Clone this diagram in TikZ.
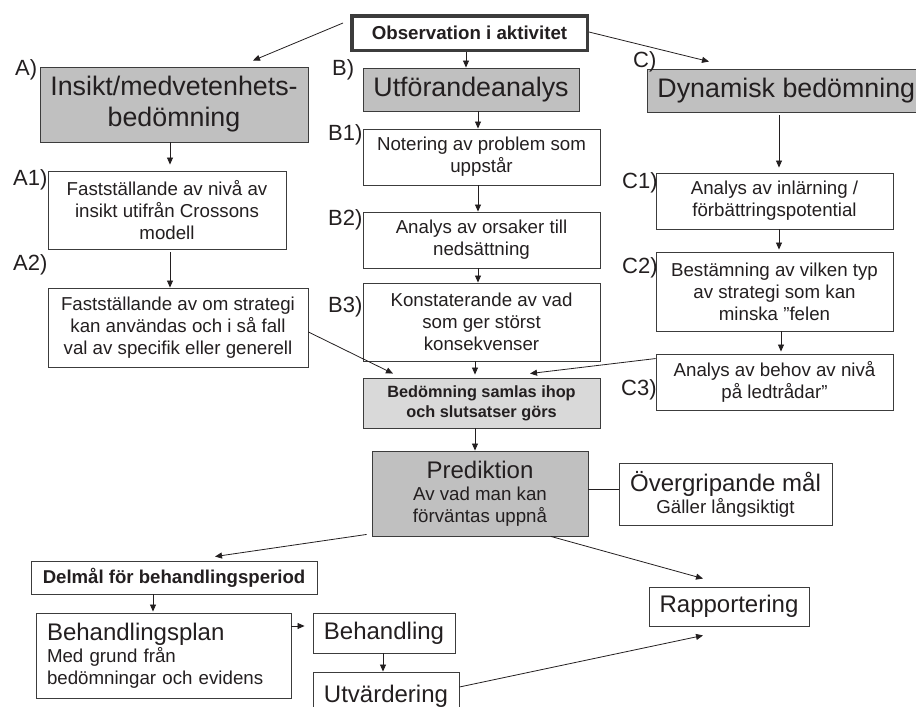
\documentclass[tikz,border=0pt]{standalone}
\usepackage{fontspec}
\setmainfont{Liberation Sans}
\usetikzlibrary{arrows.meta}

\definecolor{ink}{HTML}{231F20}
\definecolor{frame}{HTML}{3C3C3C}
\definecolor{headgray}{HTML}{C0C0C0}
\definecolor{sumgray}{HTML}{D9D9D9}

\tikzset{
  box/.style={draw=frame, line width=0.9pt, fill=white, text=ink, inner sep=0pt,
    align=center, font=\fontsize{18.7}{22}\selectfont},
  headbox/.style={box, fill=headgray, font=\fontsize{26.8}{31}\selectfont},
  bigbox/.style={box, font=\fontsize{24}{26}\selectfont},
  steplabel/.style={anchor=base west, inner sep=0pt, text=ink, font=\fontsize{22}{22}\selectfont},
  arr/.style={draw=ink, line width=0.8pt, -{Triangle[length=7pt,width=6pt]}},
  link/.style={draw=ink, line width=0.8pt},
}
\newcommand{\bigtext}[1]{{\fontsize{24}{26}\selectfont #1}}

\begin{document}
\begin{tikzpicture}[x=1pt,y=-1pt]
\useasboundingbox (0,0) rectangle (916,707);

% start
\node[box, line width=3.5pt, minimum width=235.5pt, minimum height=34.5pt,
  font=\bfseries\fontsize{18.7}{22}\selectfont] (obs) at (469.5,33) {Observation i aktivitet};

% the three heads
\node[headbox, minimum width=268pt, minimum height=75pt] (ahead) at (174,104.5) {Insikt/medvetenhets-\\bedömning};
\node[headbox, minimum width=216pt, minimum height=43pt] (bhead) at (471,89.5) {Utförandeanalys};
\node[headbox, anchor=west, inner xsep=10pt, minimum height=43pt] (chead) at (647,90.5) {Dynamisk bedömning};

% column A
\node[box, minimum width=238pt, minimum height=78pt] (a1) at (167,210) {Fastställande av nivå av\\insikt utifrån Crossons\\modell};
\node[box, minimum width=260pt, minimum height=79pt] (a2) at (178,327.5) {Fastställande av om strategi\\kan användas och i så fall\\val av specifik eller generell};

% column B
\foreach \n/\y/\h/\t in {b1/157/56/{Notering av problem som\\uppstår},
                         b2/240/56/{Analys av orsaker till\\nedsättning},
                         b3/322/78/{Konstaterande av vad\\som ger störst\\konsekvenser}}{
  \node[box, minimum width=237pt, minimum height=\h pt] (\n) at (481.5,\y) {\t};
}

% column C
\foreach \n/\y/\h/\t in {c1/201/56/{Analys av inlärning /\\förbättringspotential},
                         c2/291.5/79/{Bestämning av vilken typ\\av strategi som kan\\minska ”felen},
                         c3/382/56/{Analys av behov av nivå\\på ledtrådar”}}{
  \node[box, minimum width=237pt, minimum height=\h pt] (\n) at (774.5,\y) {\t};
}

% step labels
\foreach \t/\x/\y [count=\i] in {A)/15/75, A1)/13/185, A2)/13/270,
    B)/332/75, B1)/328/140, B2)/328/225, B3)/328/312,
    C)/633/67, C1)/622/188, C2)/622/273, C3)/621/395}
  \node[steplabel] (lab\i) at (\x,\y) {\t};

% summary and prediction
\node[box, fill=sumgray, minimum width=237pt, minimum height=50pt,
  font=\bfseries\fontsize{16.3}{20}\selectfont] (bed) at (481.5,403) {Bedömning samlas ihop\\och slutsatser görs};
\node[box, fill=headgray, minimum width=216pt, minimum height=85pt] (pred) at (480,493.5) {\bigtext{Prediktion}\\Av vad man kan\\förväntas uppnå};
\node[box, minimum width=213pt, minimum height=62pt] (over) at (725.5,494) {\bigtext{Övergripande mål}\\Gäller långsiktigt};
\node[bigbox, minimum width=160pt, minimum height=39pt] (rapp) at (729,606.5) {Rapportering};

% treatment
\node[box, minimum width=286pt, minimum height=33pt,
  font=\bfseries\fontsize{18.6}{22}\selectfont] (delm) at (174,577.5) {Delmål för behandlingsperiod};
\node[box, align=left, text width=233pt, inner xsep=11pt, minimum height=85pt] (plan) at (163.5,655.5)
  {\bigtext{Behandlingsplan}\\Med grund från\\bedömningar och evidens};
\node[bigbox, minimum width=142pt, minimum height=40pt] (beh) at (384,633) {Behandling};
\node[bigbox, minimum width=146pt, minimum height=48pt] (utv) at (386,696) {Utvärdering};

\coordinate (colb) at (478,0);
\coordinate (colm) at (475,0);
\coordinate (colc) at (779,0);
\coordinate (colc2) at (781,0);

% connectors
\draw[arr] ([xshift=-7pt,yshift=10pt]obs.west) -- ([xshift=79pt,yshift=6pt]ahead.north);
\draw[arr] ([xshift=-3.5pt]obs.south) -- ([xshift=-5pt]bhead.north);
\draw[arr] ([yshift=1pt]obs.east) -- ([xshift=62pt,yshift=7pt]chead.north west);

\draw[arr] ([xshift=-4pt]ahead.south) -- ([xshift=3pt,yshift=6pt]a1.north);
\draw[arr] ([xshift=3pt,yshift=-3pt]a1.south) -- ([xshift=-8pt]a2.north);
\draw[arr] ([yshift=-4.5pt]a2.east) -- ([xshift=-88.5pt,yshift=4pt]bed.north);

\foreach \s/\e in {bhead/b1, b1/b2, b2/b3}
  \draw[arr] (\s.south -| colb) -- (\e.north -| colb);
\draw[arr, shorten >=3pt] (b3.south -| colm) -- (bed.north -| colm);

\draw[arr, shorten <=3pt, shorten >=5pt] (chead.south -| colc) -- (c1.north -| colc);
\draw[arr, shorten >=2pt] (c1.south -| colc) -- (c2.north -| colc);
\draw[arr, shorten >=2pt] (c2.south -| colc2) -- (c3.north -| colc2);
\draw[arr] ([yshift=-5pt]c3.north west) -- ([xshift=48.5pt,yshift=4pt]bed.north);

\draw[arr] (bed.south -| colm) -- (pred.north -| colm);
\draw[link] ([yshift=4.5pt]pred.east) -- ([yshift=5pt]over.west);
\draw[arr] ([xshift=71pt]pred.south) -- ([xshift=-26pt,yshift=8pt]rapp.north);
\draw[arr] ([xshift=-5pt,yshift=2pt]pred.south west) -- ([xshift=41pt,yshift=4pt]delm.north);

\draw[arr, shorten >=1pt] ([xshift=-21pt]delm.south) -- ([xshift=-10.5pt]plan.north);
\draw[arr, shorten >=8pt] ([yshift=29.5pt]plan.east) -- ([yshift=7pt]beh.west);
\draw[arr] ([xshift=-1pt]beh.south) -- ([xshift=-3pt]utv.north);
\draw[arr] ([yshift=9pt]utv.east) -- ([xshift=-26pt,yshift=-9pt]rapp.south);
\end{tikzpicture}
\end{document}
